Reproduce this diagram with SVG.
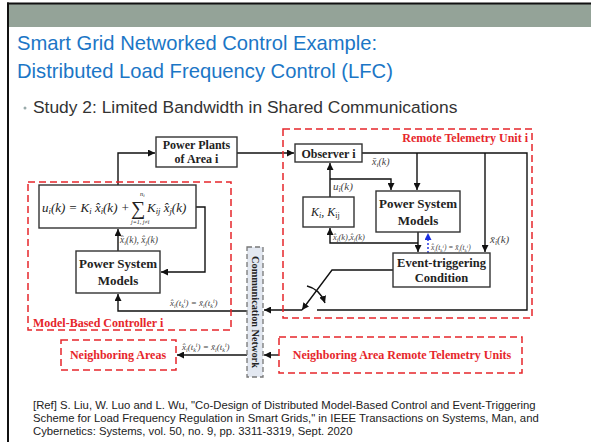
<svg xmlns="http://www.w3.org/2000/svg" width="591" height="442" viewBox="0 0 591 442">
<defs>
<marker id="ah" viewBox="0 0 10 10" refX="10" refY="5" markerWidth="7" markerHeight="7" markerUnits="userSpaceOnUse" orient="auto"><path d="M0,0 L10,5 L0,10 z" fill="#111"/></marker>
<marker id="ahb" viewBox="0 0 10 10" refX="10" refY="5" markerWidth="7" markerHeight="7" markerUnits="userSpaceOnUse" orient="auto"><path d="M0,0 L10,5 L0,10 z" fill="#1a2ee0"/></marker>
</defs>
<style>
.box{fill:#fff;stroke:#333;stroke-width:1.4}
.red{fill:none;stroke:#e6262b;stroke-width:1.5;stroke-dasharray:7 4}
.lbl{font-family:"Liberation Serif",serif;font-weight:bold;fill:#222;text-anchor:middle}
.rl{font-family:"Liberation Serif",serif;font-weight:bold;fill:#e6262b}
.m{font-family:"Liberation Serif",serif;font-style:italic;fill:#444}
.f{font-family:"Liberation Serif",serif;font-style:italic;fill:#222}
.c{fill:none;stroke:#111;stroke-width:1.4}
</style>
<rect width="591" height="442" fill="#fff"/>
<rect x="9" y="4" width="582" height="23" fill="#94a398"/>
<rect x="7" y="2.5" width="584" height="2" fill="#111"/>
<rect x="7" y="2.5" width="2" height="440" fill="#111"/>
<text x="17" y="50" font-family="Liberation Sans, Arial, sans-serif" font-size="20.2" fill="#1b76c6">Smart Grid Networked Control Example:</text>
<text x="17" y="78" font-family="Liberation Sans, Arial, sans-serif" font-size="20.2" fill="#1b76c6">Distributed Load Frequency Control (LFC)</text>
<circle cx="25" cy="108" r="1.5" fill="#9aa"/>
<text x="33" y="113" font-family="Liberation Sans, Arial, sans-serif" font-size="17.4" fill="#333">Study 2: Limited Bandwidth in Shared Communications</text>

<g id="connectors">
<path class="c" d="M118,185 V153 H155" marker-end="url(#ah)"/>
<path class="c" d="M237,153 H294" marker-end="url(#ah)"/>
<path class="c" d="M362,153 H527 V310 H317"/>
<path class="c" d="M417,153 V190" marker-end="url(#ah)"/>
<path class="c" d="M485,153 V252" marker-end="url(#ah)"/>
<path class="c" d="M330,197 V163" marker-end="url(#ah)"/>
<path class="c" d="M330,179 H391 V190" marker-end="url(#ah)"/>
<path class="c" d="M418,232 V252" marker-end="url(#ah)"/>
<path class="c" d="M418,243 H330 V228" marker-end="url(#ah)"/>
<path d="M428,253 V233" fill="none" stroke="#1a2ee0" stroke-width="1.4" stroke-dasharray="2 2" marker-end="url(#ahb)"/>
<path class="c" d="M393,270 H332 L302,310" marker-end="url(#ah)"/>
<path class="c" d="M307,286 Q320,289 325,303" marker-end="url(#ah)"/>
<path class="c" d="M302,310 H264" marker-end="url(#ah)"/>
<path class="c" d="M247,311 H118 V294" marker-end="url(#ah)"/>
<path class="c" d="M196,207 H205 V272 H161" marker-end="url(#ah)"/>
<path class="c" d="M118,251 V229" marker-end="url(#ah)"/>
<path class="c" d="M279,355 H264" marker-end="url(#ah)"/>
<path class="c" d="M247,355 H177" marker-end="url(#ah)"/>
<text class="m" x="372" y="165" font-size="10">x̄<tspan font-size="7" dy="2">i</tspan><tspan dy="-2">(k)</tspan></text>
<text class="m" x="490" y="243" font-size="11">x̄<tspan font-size="7.5" dy="2">i</tspan><tspan dy="-2">(k)</tspan></text>
<text class="m" x="333" y="190" font-size="11">u<tspan font-size="7.5" dy="2">i</tspan><tspan dy="-2">(k)</tspan></text>
<text class="m" x="333" y="240" font-size="8.5">x̂<tspan font-size="6" dy="1.5">i</tspan><tspan dy="-1.5">(k),x̂</tspan><tspan font-size="6" dy="1.5">j</tspan><tspan dy="-1.5">(k)</tspan></text>
<text class="m" x="431" y="250" font-size="7.5">x̂<tspan font-size="5" dy="1.5">i</tspan><tspan dy="-1.5">(t</tspan><tspan font-size="5" dy="1.5">k</tspan><tspan font-size="5" dy="-4">i</tspan><tspan dy="2.5">) = x̄</tspan><tspan font-size="5" dy="1.5">i</tspan><tspan dy="-1.5">(t</tspan><tspan font-size="5" dy="1.5">k</tspan><tspan font-size="5" dy="-4">i</tspan><tspan dy="2.5">)</tspan></text>
<text class="m" x="120" y="243" font-size="9.5">x̂<tspan font-size="6.5" dy="1.5">i</tspan><tspan dy="-1.5">(k), x̂</tspan><tspan font-size="6.5" dy="1.5">j</tspan><tspan dy="-1.5">(k)</tspan></text>
<text class="m" x="170" y="306" font-size="9">x̂<tspan font-size="6" dy="1.5">i</tspan><tspan dy="-1.5">(t</tspan><tspan font-size="6" dy="1.5">k</tspan><tspan font-size="6" dy="-4.5">i</tspan><tspan dy="3">) = x̄</tspan><tspan font-size="6" dy="1.5">i</tspan><tspan dy="-1.5">(t</tspan><tspan font-size="6" dy="1.5">k</tspan><tspan font-size="6" dy="-4.5">i</tspan><tspan dy="3">)</tspan></text>
<text class="m" x="182" y="350" font-size="9">x̂<tspan font-size="6" dy="1.5">i</tspan><tspan dy="-1.5">(t</tspan><tspan font-size="6" dy="1.5">k</tspan><tspan font-size="6" dy="-4.5">i</tspan><tspan dy="3">) = x̄</tspan><tspan font-size="6" dy="1.5">i</tspan><tspan dy="-1.5">(t</tspan><tspan font-size="6" dy="1.5">k</tspan><tspan font-size="6" dy="-4.5">i</tspan><tspan dy="3">)</tspan></text>
</g>

<g id="mbc">
<rect class="red" x="28" y="182" width="203" height="148"/>
<text class="rl" x="33" y="327" font-size="12">Model-Based Controller i</text>
</g>
<g id="rtu">
<rect class="red" x="283" y="129" width="249" height="189"/>
<text class="rl" x="528" y="142" font-size="12" text-anchor="end">Remote Telemetry Unit i</text>
</g>
<g id="plants">
<rect class="box" x="156" y="137" width="81" height="30"/>
<text class="lbl" x="196.5" y="149" font-size="12">Power Plants</text>
<text class="lbl" x="196.5" y="163" font-size="12">of Area i</text>
</g>
<g id="formula">
<rect class="box" x="39" y="185" width="157" height="43"/>
<text class="f" x="42" y="212" font-size="13">u<tspan font-size="8.5" dy="2">i</tspan><tspan dy="-2">(k) = K</tspan><tspan font-size="8.5" dy="2">i</tspan><tspan dy="-2"> x̂</tspan><tspan font-size="8.5" dy="2">i</tspan><tspan dy="-2">(k) +</tspan></text>
<text x="131" y="215" font-family="Liberation Serif, serif" font-size="20" fill="#222">∑</text>
<text class="f" x="140" y="196" font-size="6.5">n<tspan font-size="5" dy="1">i</tspan></text>
<text class="f" x="131" y="224" font-size="6">j=1, j≠i</text>
<text class="f" x="147" y="212" font-size="13">K<tspan font-size="8.5" dy="2">ij</tspan><tspan dy="-2"> x̂</tspan><tspan font-size="8.5" dy="2">j</tspan><tspan dy="-2">(k)</tspan></text>
</g>
<g id="psm-left">
<rect class="box" x="76" y="251" width="84" height="42"/>
<text class="lbl" x="118" y="268" font-size="13">Power System</text>
<text class="lbl" x="118" y="285" font-size="13">Models</text>
</g>
<g id="observer">
<rect class="box" x="295" y="144" width="67" height="18"/>
<text class="lbl" x="328.5" y="157.5" font-size="12">Observer i</text>
</g>
<g id="kbox">
<rect class="box" x="303" y="197" width="51" height="30"/>
<text class="f" x="311" y="216" font-size="12">K<tspan font-size="8" dy="2">i</tspan><tspan dy="-2">,  K</tspan><tspan font-size="8" dy="2" font-style="normal">ij</tspan></text>
</g>
<g id="psm-right">
<rect class="box" x="376" y="191" width="84" height="41"/>
<text class="lbl" x="418" y="208" font-size="13">Power System</text>
<text class="lbl" x="418" y="225" font-size="13">Models</text>
</g>
<g id="event">
<rect class="box" x="393" y="253" width="97" height="34"/>
<text class="lbl" x="441.5" y="267" font-size="12.5">Event-triggering</text>
<text class="lbl" x="441.5" y="282" font-size="12.5">Condition</text>
</g>
<g id="comm">
<rect x="247" y="247" width="16" height="130" fill="#e3e8f1" stroke="#777" stroke-width="1.3" stroke-dasharray="5 3"/>
<text transform="translate(251.5,312) rotate(90)" class="lbl" x="0" y="0" font-size="10.3" fill="#333">Communication Network</text>
</g>
<g id="neighbor-areas">
<rect class="red" x="61" y="340" width="115" height="30"/>
<text class="rl" x="118" y="359" font-size="12" text-anchor="middle">Neighboring Areas</text>
</g>
<g id="neighbor-rtu">
<rect class="red" x="279" y="337" width="243" height="36"/>
<text class="rl" x="402" y="359" font-size="12" text-anchor="middle">Neighboring Area Remote Telemetry Units</text>
</g>

<g font-family="Liberation Sans, Arial, sans-serif" font-size="11.3" fill="#222">
<text x="33" y="409">[Ref] S. Liu, W. Luo and L. Wu, "Co-Design of Distributed Model-Based Control and Event-Triggering</text>
<text x="33" y="422">Scheme for Load Frequency Regulation in Smart Grids," in IEEE Transactions on Systems, Man, and</text>
<text x="33" y="435">Cybernetics: Systems, vol. 50, no. 9, pp. 3311-3319, Sept. 2020</text>
</g>
</svg>
